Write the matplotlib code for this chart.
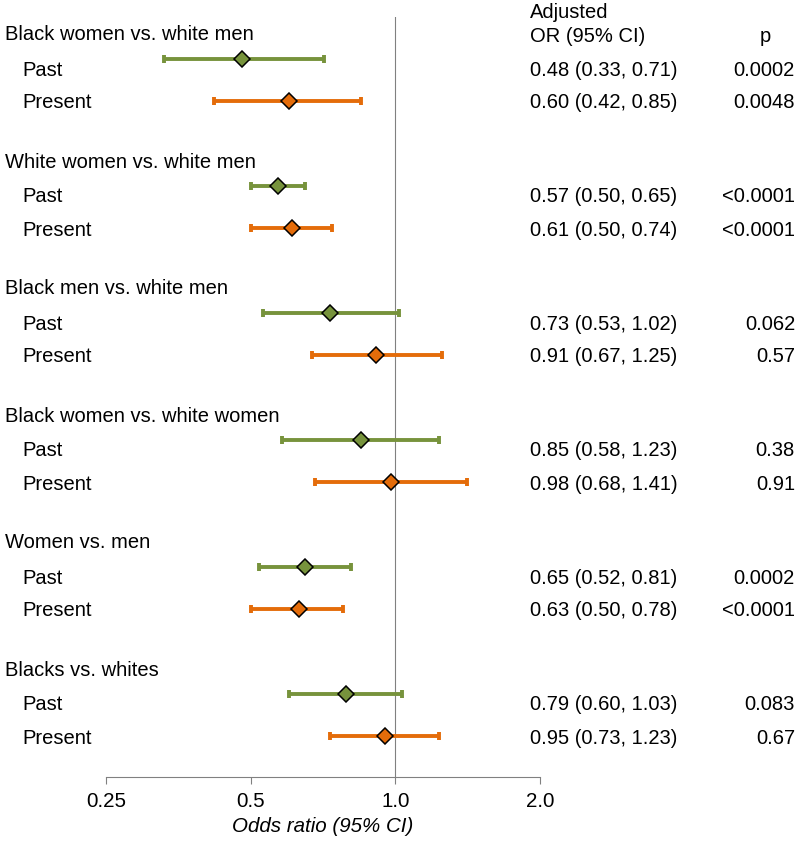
import matplotlib.pyplot as plt
from matplotlib.transforms import blended_transform_factory
import numpy as np

plt.rcParams['font.family'] = ['Liberation Sans', 'DejaVu Sans']

# Datos
grupos = ["Black women vs. white men", "White women vs. white men",
          "Black men vs. white men", "Black women vs. white women",
          "Women vs. men", "Blacks vs. whites"]
or_pasado = [0.48, 0.57, 0.73, 0.85, 0.65, 0.79]
ic_bajo_pasado = [0.33, 0.50, 0.53, 0.58, 0.52, 0.60]
ic_alto_pasado = [0.71, 0.65, 1.02, 1.23, 0.81, 1.03]
p_pasado = ["0.0002", "<0.0001", "0.062", "0.38", "0.0002", "0.083"]
or_presente = [0.60, 0.61, 0.91, 0.98, 0.63, 0.95]
ic_bajo_presente = [0.42, 0.50, 0.67, 0.68, 0.50, 0.73]
ic_alto_presente = [0.85, 0.74, 1.25, 1.41, 0.78, 1.23]
p_presente = ["0.0048", "<0.0001", "0.57", "0.91", "<0.0001", "0.67"]
ticks = [0.25, 0.5, 1.0, 2.0]
tick_labels = ["0.25", "0.5", "1.0", "2.0"]

verde = "#77933C"
naranja = "#E46C0A"

W, H = 800, 843
fig = plt.figure(figsize=(W / 100, H / 100), dpi=100)
ax = fig.add_axes([106 / W, (H - 777) / H, (540 - 106) / W, (777 - 17) / H])
ax.set_xscale("log", base=2)
ax.set_xlim(0.25, 2.0)
ax.set_ylim(777, 17)

# posiciones verticales (en pixeles) de cada grupo
y_titulo = 35 + 127 * np.arange(len(grupos))
y_pasado = y_titulo + 24
y_presente = y_titulo + 66

ax.axvline(1.0, color="#808080", lw=0.8, zorder=1)


def dibujar(valores, bajos, altos, ys, color):
    valores = np.array(valores)
    err = [valores - np.array(bajos), np.array(altos) - valores]
    ax.errorbar(valores, ys, xerr=err, fmt="none", ecolor=color,
                elinewidth=2.8, capsize=2.8, capthick=2.8, zorder=2)
    ax.plot(valores, ys, "D", color=color, markeredgecolor="black",
            markeredgewidth=1.1, markersize=8, zorder=3)


dibujar(or_pasado, ic_bajo_pasado, ic_alto_pasado, y_pasado, verde)
dibujar(or_presente, ic_bajo_presente, ic_alto_presente, y_presente, naranja)

for lado in ["top", "right", "left"]:
    ax.spines[lado].set_visible(False)
ax.spines["bottom"].set_color("#808080")
ax.spines["bottom"].set_linewidth(0.8)
ax.set_yticks([])
ax.set_xticks(ticks)
ax.set_xticklabels(tick_labels, fontsize=14.8)
ax.xaxis.set_minor_locator(plt.NullLocator())
ax.tick_params(axis="x", length=5, width=0.8, color="#808080", pad=6)
ax.set_xlabel("Odds ratio (95% CI)", fontsize=14.8, style="italic", labelpad=4)

tr = blended_transform_factory(fig.transFigure, ax.transData)
fs = 14.5
for i, g in enumerate(grupos):
    ax.text(5 / W, y_titulo[i], g, transform=tr, fontsize=fs, va="center")
    yp = y_titulo[i] + 35
    yq = y_titulo[i] + 68
    ax.text(22 / W, yp, "Past", transform=tr, fontsize=fs, va="center")
    ax.text(22 / W, yq, "Present", transform=tr, fontsize=fs, va="center")
    ax.text(530 / W, yp, f"{or_pasado[i]:.2f} ({ic_bajo_pasado[i]:.2f}, {ic_alto_pasado[i]:.2f})",
            transform=tr, fontsize=fs, va="center")
    ax.text(530 / W, yq, f"{or_presente[i]:.2f} ({ic_bajo_presente[i]:.2f}, {ic_alto_presente[i]:.2f})",
            transform=tr, fontsize=fs, va="center")
    ax.text(795 / W, yp, p_pasado[i], transform=tr, fontsize=fs, va="center", ha="right")
    ax.text(795 / W, yq, p_presente[i], transform=tr, fontsize=fs, va="center", ha="right")

ax.text(530 / W, 12, "Adjusted", transform=tr, fontsize=fs, va="center")
ax.text(530 / W, 37, "OR (95% CI)", transform=tr, fontsize=fs, va="center")
ax.text(765 / W, 37, "p", transform=tr, fontsize=fs, va="center", ha="center")

fig.savefig("out.png", dpi=100)
